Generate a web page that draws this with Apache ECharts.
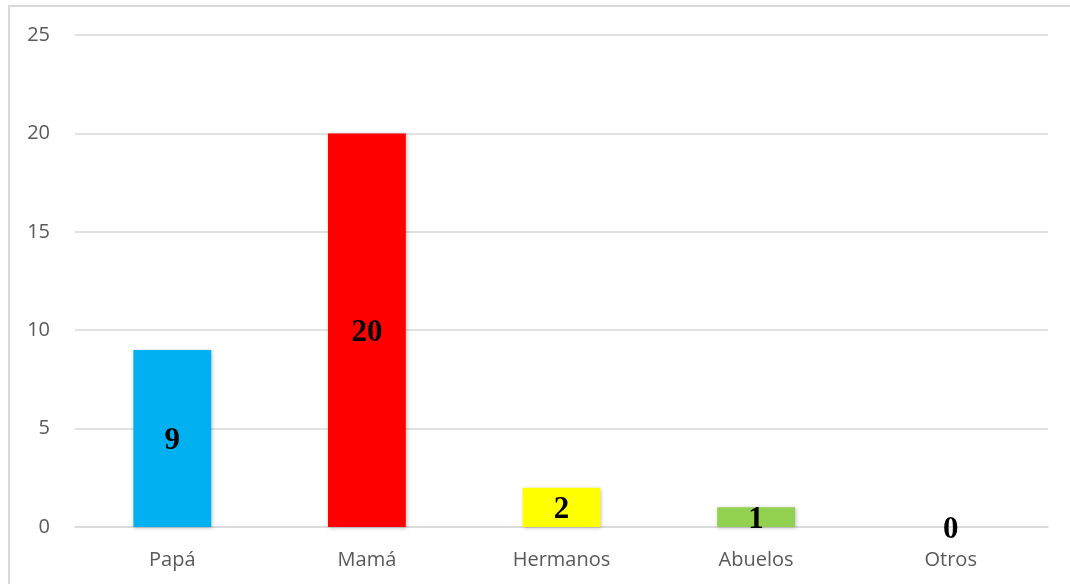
<!DOCTYPE html>
<html>
<head>
<meta charset="utf-8">
<script src="https://cdn.jsdelivr.net/npm/echarts@6/dist/echarts.min.js"></script>
<style>
html,body{margin:0;padding:0;background:#fff;}
#chart{width:1070px;height:584px;}
</style>
</head>
<body>
<div id="chart"></div>
<script>
const categories = ['Papá', 'Mamá', 'Hermanos', 'Abuelos', 'Otros'];
const values = [9, 20, 2, 1, 0];
const barColors = ['#00b0f0', '#ff0000', '#ffff00', '#92d050', '#a5a5a5'];
const yTicks = {min: 0, max: 25, interval: 5};

const chart = echarts.init(document.getElementById('chart'));
chart.setOption({
  animation: false,
  backgroundColor: '#ffffff',
  graphic: [{
    type: 'rect',
    shape: {x: 9, y: 6, width: 1200, height: 700},
    style: {fill: 'none', stroke: '#d9d9d9', lineWidth: 2},
    silent: true
  }],
  grid: {left: 75, right: 22, top: 35, bottom: 57},
  xAxis: {
    type: 'category',
    data: categories,
    axisLine: {show: true, lineStyle: {color: '#d9d9d9', width: 1.5}},
    axisTick: {show: false},
    axisLabel: {color: '#595959', fontFamily: 'Open Sans', fontSize: 20, margin: 23}
  },
  yAxis: {
    type: 'value',
    min: yTicks.min, max: yTicks.max, interval: yTicks.interval,
    axisLine: {show: false},
    axisTick: {show: false},
    splitLine: {lineStyle: {color: '#d9d9d9', width: 1.5}},
    axisLabel: {color: '#595959', fontFamily: 'Open Sans', fontSize: 20, margin: 25}
  },
  series: [{
    type: 'bar',
    barWidth: '40%',
    data: values.map((v, i) => ({value: v, itemStyle: {color: barColors[i]}})),
    itemStyle: {shadowBlur: 4, shadowColor: 'rgba(0,0,0,0.25)', shadowOffsetX: 1, shadowOffsetY: 1},
    label: {
      show: true,
      position: 'inside',
      offset: [0, 3],
      color: '#000',
      fontFamily: 'Liberation Serif',
      fontWeight: 'bold',
      fontSize: 31
    }
  }]
});
</script>
</body>
</html>
